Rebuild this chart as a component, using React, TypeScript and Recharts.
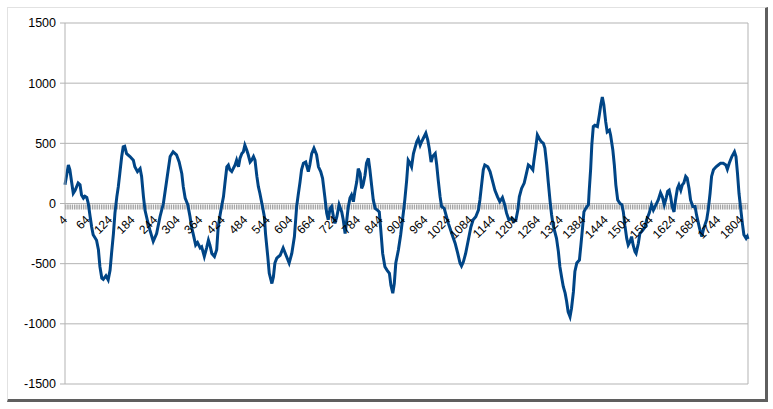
import React from "react";
import {
  LineChart,
  Line,
  XAxis,
  YAxis,
  CartesianGrid,
  ReferenceLine,
  ReferenceDot,
} from "recharts";

// sample number (category) of each point
const sampleIndex = [
  4, 13, 17, 22, 26, 31, 39, 44, 48, 53, 57, 62, 66, 71, 75, 79, 88, 93, 97, 102,
  106, 113, 119, 124, 128, 133, 137, 142, 146, 150, 155, 159, 163, 168, 177, 186, 190, 197, 204, 208,
  213, 217, 223, 230, 239, 248, 257, 266, 275, 284, 292, 301, 308, 315, 319, 324, 331, 337, 341, 346,
  352, 357, 364, 368, 375, 381, 386, 390, 395, 402, 408, 412, 417, 421, 426, 430, 435, 439, 443, 448,
  452, 457, 461, 466, 470, 475, 479, 483, 488, 492, 497, 501, 506, 510, 515, 519, 523, 529, 535, 538,
  544, 548, 555, 559, 563, 568, 577, 585, 594, 601, 608, 615, 621, 625, 630, 634, 639, 645, 652, 656,
  661, 667, 674, 679, 685, 690, 696, 701, 705, 710, 714, 719, 723, 728, 734, 741, 745, 750, 754, 758,
  763, 767, 772, 776, 781, 785, 790, 794, 798, 803, 807, 812, 816, 821, 825, 830, 836, 841, 845, 850,
  856, 862, 868, 872, 877, 881, 885, 892, 898, 905, 909, 914, 918, 923, 927, 932, 936, 941, 945, 950,
  954, 958, 965, 970, 974, 979, 983, 990, 994, 998, 1003, 1007, 1014, 1020, 1025, 1034, 1043, 1050, 1056, 1060,
  1065, 1071, 1078, 1085, 1091, 1098, 1105, 1109, 1114, 1118, 1122, 1130, 1136, 1142, 1149, 1156, 1162, 1169, 1174, 1180,
  1186, 1194, 1200, 1205, 1210, 1214, 1220, 1227, 1234, 1238, 1244, 1250, 1253, 1258, 1262, 1267, 1272, 1278, 1282, 1287,
  1291, 1296, 1300, 1304, 1313, 1318, 1322, 1327, 1331, 1336, 1340, 1344, 1349, 1353, 1358, 1362, 1367, 1374, 1378, 1383,
  1386, 1391, 1398, 1400, 1404, 1407, 1411, 1415, 1422, 1427, 1431, 1435, 1439, 1444, 1448, 1454, 1457, 1463, 1467, 1471,
  1476, 1482, 1487, 1491, 1495, 1500, 1504, 1509, 1513, 1517, 1522, 1525, 1531, 1535, 1543, 1549, 1553, 1560, 1566, 1571,
  1578, 1584, 1590, 1595, 1600, 1605, 1609, 1613, 1617, 1621, 1626, 1630, 1635, 1639, 1644, 1648, 1652, 1657, 1661, 1666,
  1670, 1676, 1682, 1686, 1691, 1695, 1700, 1704, 1708, 1713, 1717, 1722, 1726, 1731, 1738, 1744, 1750, 1757, 1764, 1768,
  1773, 1780, 1787, 1791, 1795, 1799, 1804, 1808, 1812, 1818, 1821, 1823,
];

const sampleValue = [
  155, 320, 280, 170, 85, 110, 170, 155, 70, 45, 60, 50, 0, -110, -195, -260, -305, -385, -525, -620,
  -630, -600, -635, -555, -415, -250, -80, 55, 140, 250, 390, 470, 475, 415, 390, 360, 305, 265, 290, 225,
  55, -55, -135, -220, -315, -250, -110, 0, 195, 390, 430, 405, 345, 250, 140, 45, -10, -110, -195, -260,
  -345, -325, -370, -360, -440, -370, -305, -345, -415, -440, -385, -195, -95, -25, 55, 170, 305, 320, 280, 265,
  290, 320, 360, 305, 375, 415, 430, 485, 445, 405, 345, 360, 390, 360, 225, 140, 85, -10, -110, -250,
  -440, -580, -665, -610, -495, -455, -430, -370, -440, -495, -415, -275, -25, 70, 180, 280, 335, 345, 265, 320,
  415, 460, 405, 305, 265, 210, 55, -80, -135, -40, -25, -110, -165, -110, -10, -70, -135, -250, -150, -40,
  45, 70, 15, 100, 180, 290, 250, 125, 155, 235, 335, 375, 280, 140, 30, -40, -55, -70, -220, -415,
  -525, -555, -580, -680, -745, -665, -495, -385, -260, -80, 30, 195, 360, 335, 305, 415, 460, 515, 540, 485,
  515, 540, 585, 530, 460, 345, 390, 415, 320, 195, 55, -25, -40, -110, -165, -250, -330, -415, -495, -520,
  -485, -415, -305, -195, -135, -110, -55, 30, 170, 280, 320, 305, 265, 195, 110, 55, 15, 50, 0, -80,
  -135, -125, -150, -135, -55, 55, 125, 170, 265, 320, 305, 280, 360, 470, 570, 540, 515, 500, 460, 320,
  180, 15, -95, -180, -290, -400, -525, -620, -690, -745, -815, -900, -940, -870, -735, -565, -495, -470, -345, -180,
  -70, -40, -10, 100, 290, 485, 640, 650, 640, 735, 820, 885, 820, 680, 595, 610, 570, 445, 320, 155,
  30, 0, -10, -70, -180, -290, -345, -315, -275, -345, -400, -415, -330, -250, -220, -195, -135, -80, -10, -55,
  -10, 30, 90, 55, -10, 45, 100, 110, 55, -25, -70, 30, 125, 155, 110, 155, 170, 225, 210, 125,
  30, -25, -25, -95, -165, -220, -275, -220, -180, -135, -55, 85, 225, 280, 305, 320, 335, 335, 320, 285,
  335, 390, 430, 390, 250, 85, -55, -165, -260, -290, -275, -295,
];

// category labels shown along the zero line
const categoryLabels = [
  4, 64, 124, 184, 244, 304, 364, 424, 484, 544, 604, 664, 724, 784, 844, 904,
  964, 1024, 1084, 1144, 1204, 1264, 1324, 1384, 1444, 1504, 1564, 1624, 1684, 1744, 1804,
];

const yTicks = [-1500, -1000, -500, 0, 500, 1000, 1500];

const data = sampleIndex.map((idx, i) => ({ idx, value: sampleValue[i] }));
const firstIdx = sampleIndex[0];
const lastIdx = sampleIndex[sampleIndex.length - 1];

const FONT = '"Liberation Sans", Arial, sans-serif';
const GRID = "#b3b3b3";

const App = () => {
  return (
    <div
      style={{
        position: "absolute",
        left: 7,
        top: 7,
        boxSizing: "content-box",
        width: 757,
        minWidth: 757,
        maxWidth: 757,
        height: 391,
        background: "#fff",
        borderTop: "1px solid #e2e2e2",
        borderLeft: "1px solid #e2e2e2",
        borderRight: "3px solid #5f5f5f",
        borderBottom: "3px solid #5f5f5f",
        fontFamily: FONT,
      }}
    >
      <LineChart
        width={757}
        height={391}
        data={data}
        margin={{ top: 15, right: 17, bottom: 15, left: 0 }}
      >
        <CartesianGrid horizontal vertical={false} stroke={GRID} />
        <XAxis dataKey="idx" type="number" domain={[firstIdx, lastIdx]} hide />
        <YAxis
          domain={[-1500, 1500]}
          ticks={yTicks}
          interval={0}
          width={57}
          tickSize={5}
          tickMargin={4}
          axisLine={{ stroke: GRID }}
          tickLine={{ stroke: GRID }}
          tick={{ fontSize: 12.5, fill: "#000", fontFamily: FONT }}
        />
        <ReferenceLine x={lastIdx} stroke={GRID} />
        <ReferenceLine
          y={0}
          shape={(p: any) => (
            <g>
              <line x1={p.x1} y1={p.y1} x2={p.x2} y2={p.y2} stroke={GRID} />
              <line
                x1={p.x1}
                y1={p.y1 + 3.5}
                x2={p.x2}
                y2={p.y2 + 3.5}
                stroke="#a6a6a6"
                strokeWidth={5}
                strokeDasharray="1.4 0.85"
              />
            </g>
          )}
        />
        {categoryLabels.map((c) => (
          <ReferenceDot
            key={c}
            x={c}
            y={0}
            r={0}
            shape={(p: any) => {
              const tx = p.cx + 3;
              const ty = p.cy + 17;
              return (
                <text
                  x={tx}
                  y={ty}
                  textAnchor="end"
                  transform={`rotate(-45 ${tx} ${ty})`}
                  fontSize={12}
                  fontFamily={FONT}
                  fill="#000"
                >
                  {c}
                </text>
              );
            }}
          />
        ))}
        <Line
          type="linear"
          dataKey="value"
          stroke="#004586"
          strokeWidth={3}
          dot={false}
          activeDot={false}
          isAnimationActive={false}
        />
      </LineChart>
    </div>
  );
};

export default App;
